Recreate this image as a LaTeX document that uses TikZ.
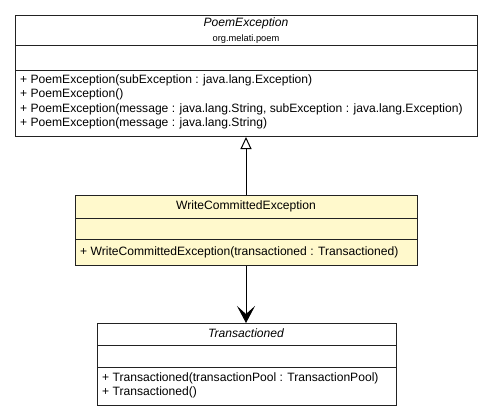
\documentclass[tikz,border=0pt]{standalone}
\usepackage{fontspec}
\setmainfont{Liberation Sans}
\usetikzlibrary{arrows.meta}
\definecolor{noteyellow}{HTML}{FFF9CC}
\definecolor{edge}{HTML}{222222}
\tikzset{
  umlbox/.style={draw=edge, line width=1pt, anchor=north west, inner sep=0pt},
  title/.style={font=\fontsize{12.1}{14}\selectfont, anchor=base, inner sep=0pt},
  pkg/.style={font=\fontsize{9.3}{11}\selectfont, anchor=base, inner sep=0pt},
  meth/.style={font=\fontsize{12.1}{14}\selectfont, anchor=base west, inner sep=0pt},
  divider/.style={draw=edge, line width=1pt},
  inherit/.style={draw=black, line width=1pt, -{Triangle[open, width=11pt, length=12pt]}},
  assoc/.style={draw=black, line width=1pt, -{Stealth[width=18pt, length=17pt, inset=8pt]}}
}
\begin{document}
\begin{tikzpicture}[x=1pt, y=-1pt]
\useasboundingbox (0,0) rectangle (493,416);
% PoemException
\node[umlbox, fill=white, minimum width=462pt, minimum height=121pt] (poem) at (15,15) {};
\draw[divider] (15,45.5) -- (477,45.5);
\draw[divider] (15,70.5) -- (477,70.5);
\node[title, font=\fontsize{12.1}{14}\selectfont\itshape] (poemname) at (246,26) {PoemException};
\node[pkg] (poempkg) at (246,41) {org.melati.poem};
\node[meth] (pm1) at (20,83.5) {+ PoemException(subException : java.lang.Exception)};
\node[meth] (pm2) at (20,97.8) {+ PoemException()};
\node[meth] (pm3) at (20,112.1) {+ PoemException(message : java.lang.String, subException : java.lang.Exception)};
\node[meth] (pm4) at (20,126.4) {+ PoemException(message : java.lang.String)};
% WriteCommittedException
\node[umlbox, fill=noteyellow, minimum width=342pt, minimum height=70pt] (wce) at (75,194.5) {};
\draw[divider] (75,218.5) -- (417,218.5);
\draw[divider] (75,239) -- (417,239);
\node[title] (wcename) at (246,209.5) {WriteCommittedException};
\node[meth] (wm1) at (80,255) {+ WriteCommittedException(transactioned : Transactioned)};
% Transactioned
\node[umlbox, fill=white, minimum width=299pt, minimum height=82pt] (tr) at (97,323) {};
\draw[divider] (97,345) -- (396,345);
\draw[divider] (97,367.5) -- (396,367.5);
\node[title, font=\fontsize{12.1}{14}\selectfont\itshape] (trname) at (246,337) {Transactioned};
\node[meth] (tm1) at (102,381) {+ Transactioned(transactionPool : TransactionPool)};
\node[meth] (tm2) at (102,395) {+ Transactioned()};
% connectors
\draw[inherit] (wce.north -| 246,0) -- (poem.south -| 246,0);
\draw[assoc] (wce.south -| 246,0) -- (tr.north -| 246,0);
\end{tikzpicture}
\end{document}
